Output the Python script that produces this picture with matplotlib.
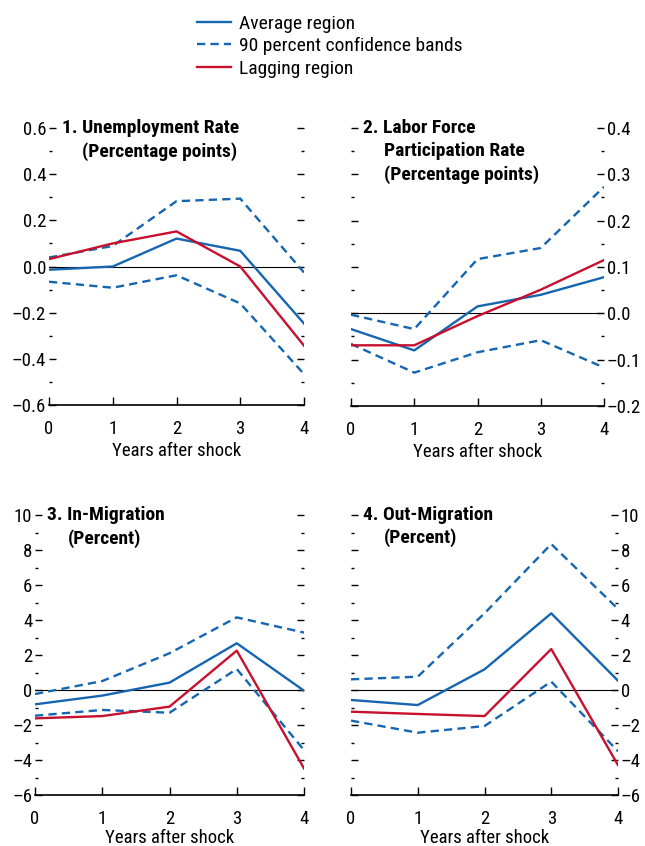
import matplotlib
matplotlib.use("Agg")
import matplotlib.pyplot as plt
from matplotlib.lines import Line2D
from matplotlib.ticker import MultipleLocator, FuncFormatter

plt.rcParams['font.family'] = ['Roboto Condensed', 'Liberation Sans Narrow', 'Liberation Sans', 'DejaVu Sans']

years = [0, 1, 2, 3, 4]

# 1. Unemployment rate
unemp_avg = [-0.014, 0.0, 0.121, 0.068, -0.247]
unemp_lag = [0.032, 0.10, 0.152, 0.0, -0.343]
unemp_hi = [0.039, 0.089, 0.283, 0.294, -0.026]
unemp_lo = [-0.066, -0.092, -0.038, -0.160, -0.466]

# 2. Labor force participation rate
lfpr_avg = [-0.034, -0.080, 0.015, 0.040, 0.078]
lfpr_lag = [-0.069, -0.069, -0.006, 0.051, 0.115]
lfpr_hi = [-0.003, -0.034, 0.117, 0.141, 0.273]
lfpr_lo = [-0.066, -0.128, -0.084, -0.058, -0.117]

# 3. In-migration
inmig_avg = [-0.82, -0.32, 0.42, 2.67, -0.04]
inmig_lag = [-1.62, -1.49, -0.95, 2.25, -4.48]
inmig_hi = [-0.23, 0.51, 2.10, 4.15, 3.28]
inmig_lo = [-1.47, -1.14, -1.30, 1.20, -3.43]

# 4. Out-migration
outmig_avg = [-0.57, -0.86, 1.18, 4.38, 0.53]
outmig_lag = [-1.24, -1.37, -1.49, 2.34, -4.29]
outmig_hi = [0.61, 0.76, 4.38, 8.34, 4.63]
outmig_lo = [-1.75, -2.44, -2.06, 0.48, -3.50]

blue = "#1565b0"
red = "#c8102e"
W, H = 645, 846
fs = 13.5
fs_title = 14

fig = plt.figure(figsize=(6.45, 8.46), dpi=100)

def px_axes(l, r, t, b):
    return fig.add_axes([l / W, 1 - b / H, (r - l) / W, (b - t) / H])

def make_fmt(fmt):
    def f(v, pos):
        s = fmt % v
        if s.startswith("-"):
            s = "\u2013" + s[1:]
        if s in ("\u20130", "\u20130.0"):
            s = s[1:]
        return s
    return FuncFormatter(f)

def draw(ax, avg, lag, hi, lo, ylim, major, minor, fmt, side, xpad=3):
    ax.axhline(0, color="black", lw=0.8, zorder=1)
    ax.plot(years, hi, color=blue, lw=1.7, ls=(0, (3.5, 2.2)), zorder=2)
    ax.plot(years, lo, color=blue, lw=1.7, ls=(0, (3.5, 2.2)), zorder=2)
    ax.plot(years, avg, color=blue, lw=1.7, zorder=3)
    ax.plot(years, lag, color=red, lw=1.7, zorder=4)
    ax.set_xlim(0, 4)
    ax.set_ylim(*ylim)
    for s in ["left", "right", "top"]:
        ax.spines[s].set_visible(False)
    ax.spines["bottom"].set_linewidth(1.2)
    ax.set_xticks(years)
    ax.yaxis.set_major_locator(MultipleLocator(major))
    ax.yaxis.set_minor_locator(MultipleLocator(minor))
    ax.yaxis.set_major_formatter(make_fmt(fmt))
    ax.tick_params(axis="x", direction="in", length=6, width=1, labelsize=fs, pad=11)
    ax.tick_params(axis="y", which="major", direction="in", length=5, width=1,
                   labelsize=fs, pad=2, left=True, right=True,
                   labelleft=(side == "left"), labelright=(side == "right"))
    ax.tick_params(axis="y", which="minor", direction="in", length=2, width=1,
                   left=True, right=True)
    ax.set_xlabel("Years after shock", fontsize=fs, labelpad=xpad)

ax1 = px_axes(49, 304, 128, 405)
draw(ax1, unemp_avg, unemp_lag, unemp_hi, unemp_lo, (-0.6, 0.6), 0.2, 0.1, "%.1f", "left")
ax2 = px_axes(351, 604, 128, 406)
draw(ax2, lfpr_avg, lfpr_lag, lfpr_hi, lfpr_lo, (-0.2, 0.4), 0.1, 0.05, "%.1f", "right")
ax3 = px_axes(35, 304, 515, 795)
draw(ax3, inmig_avg, inmig_lag, inmig_hi, inmig_lo, (-6, 10), 2, 1, "%d", "left", xpad=0.5)
ax4 = px_axes(351, 618, 515, 795)
draw(ax4, outmig_avg, outmig_lag, outmig_hi, outmig_lo, (-6, 10), 2, 1, "%d", "right", xpad=0.5)

def title(x, y, s):
    fig.text(x / W, 1 - y / H, s, fontsize=fs_title, fontweight="bold", va="center", ha="left")

title(62, 128, "1. Unemployment Rate")
title(82, 152, "(Percentage points)")
title(363, 128, "2. Labor Force")
title(384, 151, "Participation Rate")
title(384, 175, "(Percentage points)")
title(47, 515, "3. In-Migration")
title(68, 539, "(Percent)")
title(363, 515, "4. Out-Migration")
title(384, 538, "(Percent)")

handles = [
    Line2D([], [], color=blue, lw=1.7),
    Line2D([], [], color=blue, lw=1.7, ls=(0, (3.5, 2.2))),
    Line2D([], [], color=red, lw=1.7),
]
labels = ["Average region", "90 percent confidence bands", "Lagging region"]
fig.legend(handles, labels, loc="upper left", bbox_to_anchor=(193 / W, 1 - 11 / H),
           frameon=False, fontsize=fs_title, handlelength=1.75, handletextpad=0.4,
           labelspacing=0.22, borderpad=0.2, borderaxespad=0)

fig.savefig("out.png", dpi=100)
